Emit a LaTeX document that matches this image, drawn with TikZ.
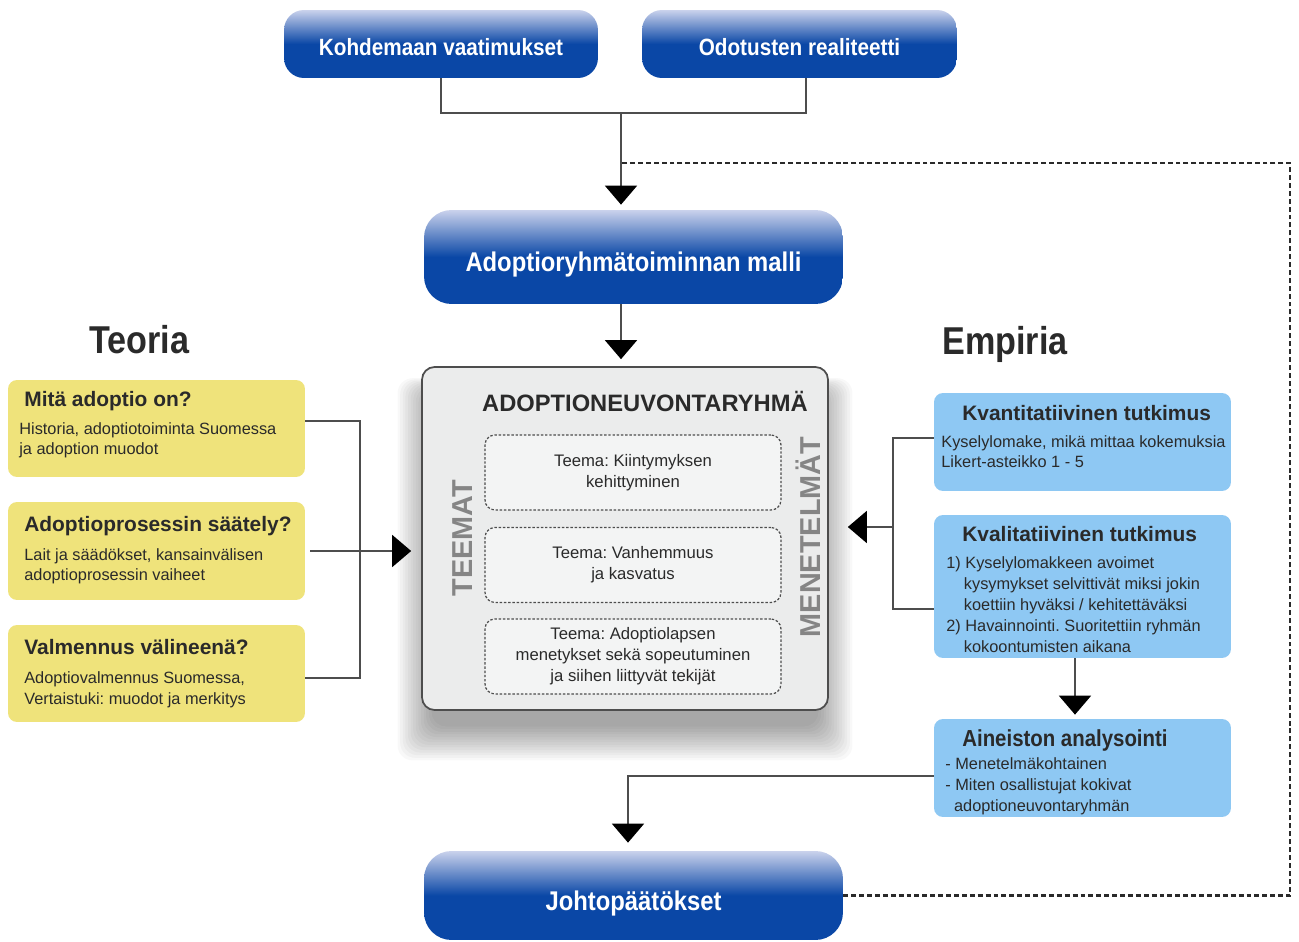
\documentclass[tikz,border=0pt]{standalone}
\usepackage{fontspec}
\setmainfont{Liberation Sans}
\newfontfamily\condfont[FakeStretch=0.88]{Liberation Sans}
\usetikzlibrary{arrows.meta,calc}
\definecolor{bluedark}{HTML}{0A47A6}
\definecolor{bluelight}{HTML}{CAD2EC}
\definecolor{yel}{HTML}{EFE37B}
\definecolor{lblue}{HTML}{8EC8F3}
\definecolor{grayfill}{HTML}{EBECEC}
\definecolor{txt}{HTML}{2A2A2A}
\definecolor{lngray}{HTML}{4D4D4D}
\definecolor{lbl}{HTML}{858585}
\frenchspacing
\begin{document}
\begin{tikzpicture}[x=0.02cm,y=-0.02cm,
  bluebox/.style={rounded corners=0.4cm, top color=bluelight, bottom color=bluedark, middle color=bluedark, text=white, font=\condfont\bfseries\fontsize{13.4}{16}\selectfont, inner sep=0pt, text height=13pt, text depth=0pt},
  bigblue/.style={bluebox, rounded corners=0.55cm, font=\condfont\bfseries\fontsize{15.4}{18}\selectfont, text height=16.5pt},
  ybox/.style={fill=yel, rounded corners=0.18cm, minimum width=5.94cm, inner sep=0pt},
  rbox/.style={fill=lblue, rounded corners=0.18cm, minimum width=5.94cm, inner sep=0pt},
  ttl/.style={anchor=base west, inner sep=0pt, text=txt, font=\bfseries\fontsize{11.9}{14}\selectfont},
  body/.style={anchor=base west, inner sep=0pt, text=txt, align=left, font=\fontsize{9.3}{11.9}\selectfont},
  big/.style={anchor=base west, inner sep=0pt, text=txt, font=\condfont\bfseries\fontsize{22.1}{26}\selectfont},
  tbox/.style={draw=lngray, dash pattern=on 1.4pt off 1pt, line width=0.7pt, rounded corners=0.2cm, fill=grayfill!60!white, minimum width=5.92cm, minimum height=1.5cm, align=center, text=txt, font=\fontsize{9.5}{11.9}\selectfont, inner sep=0pt},
  vlabel/.style={rotate=90, inner sep=0pt, text=lbl, font=\bfseries\fontsize{16.4}{19}\selectfont},
  ln/.style={draw=lngray, line width=1pt},
  arr/.style={draw=lngray, line width=1pt, -{Triangle[length=0.38cm,width=0.64cm,color=black]}},
  dashline/.style={draw=txt, line width=1.6pt, dash pattern=on 2.8pt off 1.7pt}
]
\fill[white] (0,0) rectangle (1299,942);
\useasboundingbox (0,0) rectangle (1299,942);

% soft shadow of the central box
\coordinate (sh1) at (434,395);
\coordinate (sh2) at (816,724);
\foreach \i in {1,...,14}{
  \fill[black, opacity=0.028, rounded corners=0.3cm] ($(sh1)+(-2.6*\i,-1.2*\i)$) rectangle ($(sh2)+(2.6*\i,2.6*\i)$);
}

% gray central box
\node[draw=lngray, line width=1pt, fill=grayfill, rounded corners=0.25cm, minimum width=8.12cm, minimum height=6.86cm] (g) at (625,538.5) {};
\node[anchor=base east, inner sep=0pt, text=txt, font=\bfseries\fontsize{13.5}{16}\selectfont] (gt) at (808,412) {ADOPTIONEUVONTARYHMÄ};
\node[tbox] (t1) at (633,472.5) {Teema: Kiintymyksen\\kehittyminen};
\node[tbox] (t2) at (633,565) {Teema: Vanhemmuus\\ja kasvatus};
\node[tbox] (t3) at (633,656.5) {Teema: Adoptiolapsen\\menetykset sekä sopeutuminen\\ja siihen liittyvät tekijät};
\node[vlabel] (tm) at (463,538) {TEEMAT};
\node[vlabel] (mn) at (808,537) {MENETELMÄT};

% top blue boxes
\node[bluebox, minimum width=6.28cm, minimum height=1.36cm] (k) at (441,44) {Kohdemaan vaatimukset};
\node[bluebox, minimum width=6.3cm, minimum height=1.36cm] (o) at (799.5,44) {Odotusten realiteetti};
\node[bigblue, minimum width=8.38cm, minimum height=1.88cm] (m) at (633.5,257) {Adoptioryhmätoiminnan malli};
\node[bigblue, minimum width=8.38cm, minimum height=1.78cm, text height=17pt] (jo) at (633.5,895.5) {Johtopäätökset};

\coordinate (j1) at (621,113);
\coordinate (d1) at (621,163);
\coordinate (dc) at (1290,163);
\draw[ln] (k.south) |- (j1) -| ([xshift=0.13cm]o.south);
\draw[arr, shorten >=0.1cm] (j1) -- (j1 |- m.north);
\draw[arr, shorten >=0.14cm] (j1 |- m.south) -- (j1 |- g.north);
\draw[dashline] (jo.east) -| (dc) -- (d1);

% headings
\node[big] (teo) at (89,354) {Teoria};
\node[big] (emp) at (942,355) {Empiria};

% yellow boxes
\node[ybox, minimum height=1.94cm] (y1) at (156.5,428.5) {};
\node[ybox, minimum height=1.96cm] (y2) at (156.5,551) {};
\node[ybox, minimum height=1.94cm] (y3) at (156.5,673.5) {};
\node[ttl] (y1t) at (24,407) {Mitä adoptio on?};
\node[body] (y1b) at (19,455) {Historia, adoptiotoiminta Suomessa\\ja adoption muodot};
\node[ttl] (y2t) at (24,532) {Adoptioprosessin säätely?};
\node[body] (y2b) at (24,581) {Lait ja säädökset, kansainvälisen\\adoptioprosessin vaiheet};
\node[ttl] (y3t) at (24,654) {Valmennus välineenä?};
\node[body] (y3b) at (24,704) {Adoptiovalmennus Suomessa,\\Vertaistuki: muodot ja merkitys};

\coordinate (lv) at (360,550);
\draw[ln] ([yshift=0.15cm]y1.east) -| (lv);
\draw[ln] ([yshift=-0.09cm]y3.east) -| (lv);
\draw[arr, shorten >=0.2cm] ([xshift=0.1cm]y2.east) -- (y2.east -| g.west);

% right boxes
\node[rbox, minimum height=1.96cm] (r1) at (1082.5,442) {};
\node[rbox, minimum height=2.86cm] (r2) at (1082.5,586.5) {};
\node[rbox, minimum height=1.96cm] (r3) at (1082.5,768) {};
\node[ttl] (r1t) at (962,421) {Kvantitatiivinen tutkimus};
\node[body] (r1b) at (941,468) {Kyselylomake, mikä mittaa kokemuksia\\Likert-asteikko 1 - 5};
\node[ttl] (r2t) at (962,541) {Kvalitatiivinen tutkimus};
\node[body] (r2b) at (946,652) {1) Kyselylomakkeen avoimet\\\hspace*{10pt}kysymykset selvittivät miksi jokin\\\hspace*{10pt}koettiin hyväksi / kehitettäväksi\\2) Havainnointi. Suoritettiin ryhmän\\\hspace*{10pt}kokoontumisten aikana};
\node[ttl, font=\condfont\bfseries\fontsize{13.2}{15}\selectfont] (r3t) at (962,746) {Aineiston analysointi};
\node[body] (r3b) at (945,811) {- Menetelmäkohtainen\\- Miten osallistujat kokivat\\\hspace*{5pt}adoptioneuvontaryhmän};

\coordinate (rv) at (893,527);
\draw[ln] ([yshift=0.08cm]r1.west) -| (rv);
\draw[ln] ([yshift=-0.45cm]r2.west) -| (rv);
\draw[arr, shorten >=0.38cm] (rv) -- (rv -| g.east);
\draw[arr, shorten >=0.08cm] ([xshift=-0.15cm]r2.south) -- ([xshift=-0.15cm]r3.north);
\draw[arr, shorten >=0.16cm] ([yshift=-0.16cm]r3.west) -| ([xshift=-0.11cm]jo.north);
\end{tikzpicture}
\end{document}
